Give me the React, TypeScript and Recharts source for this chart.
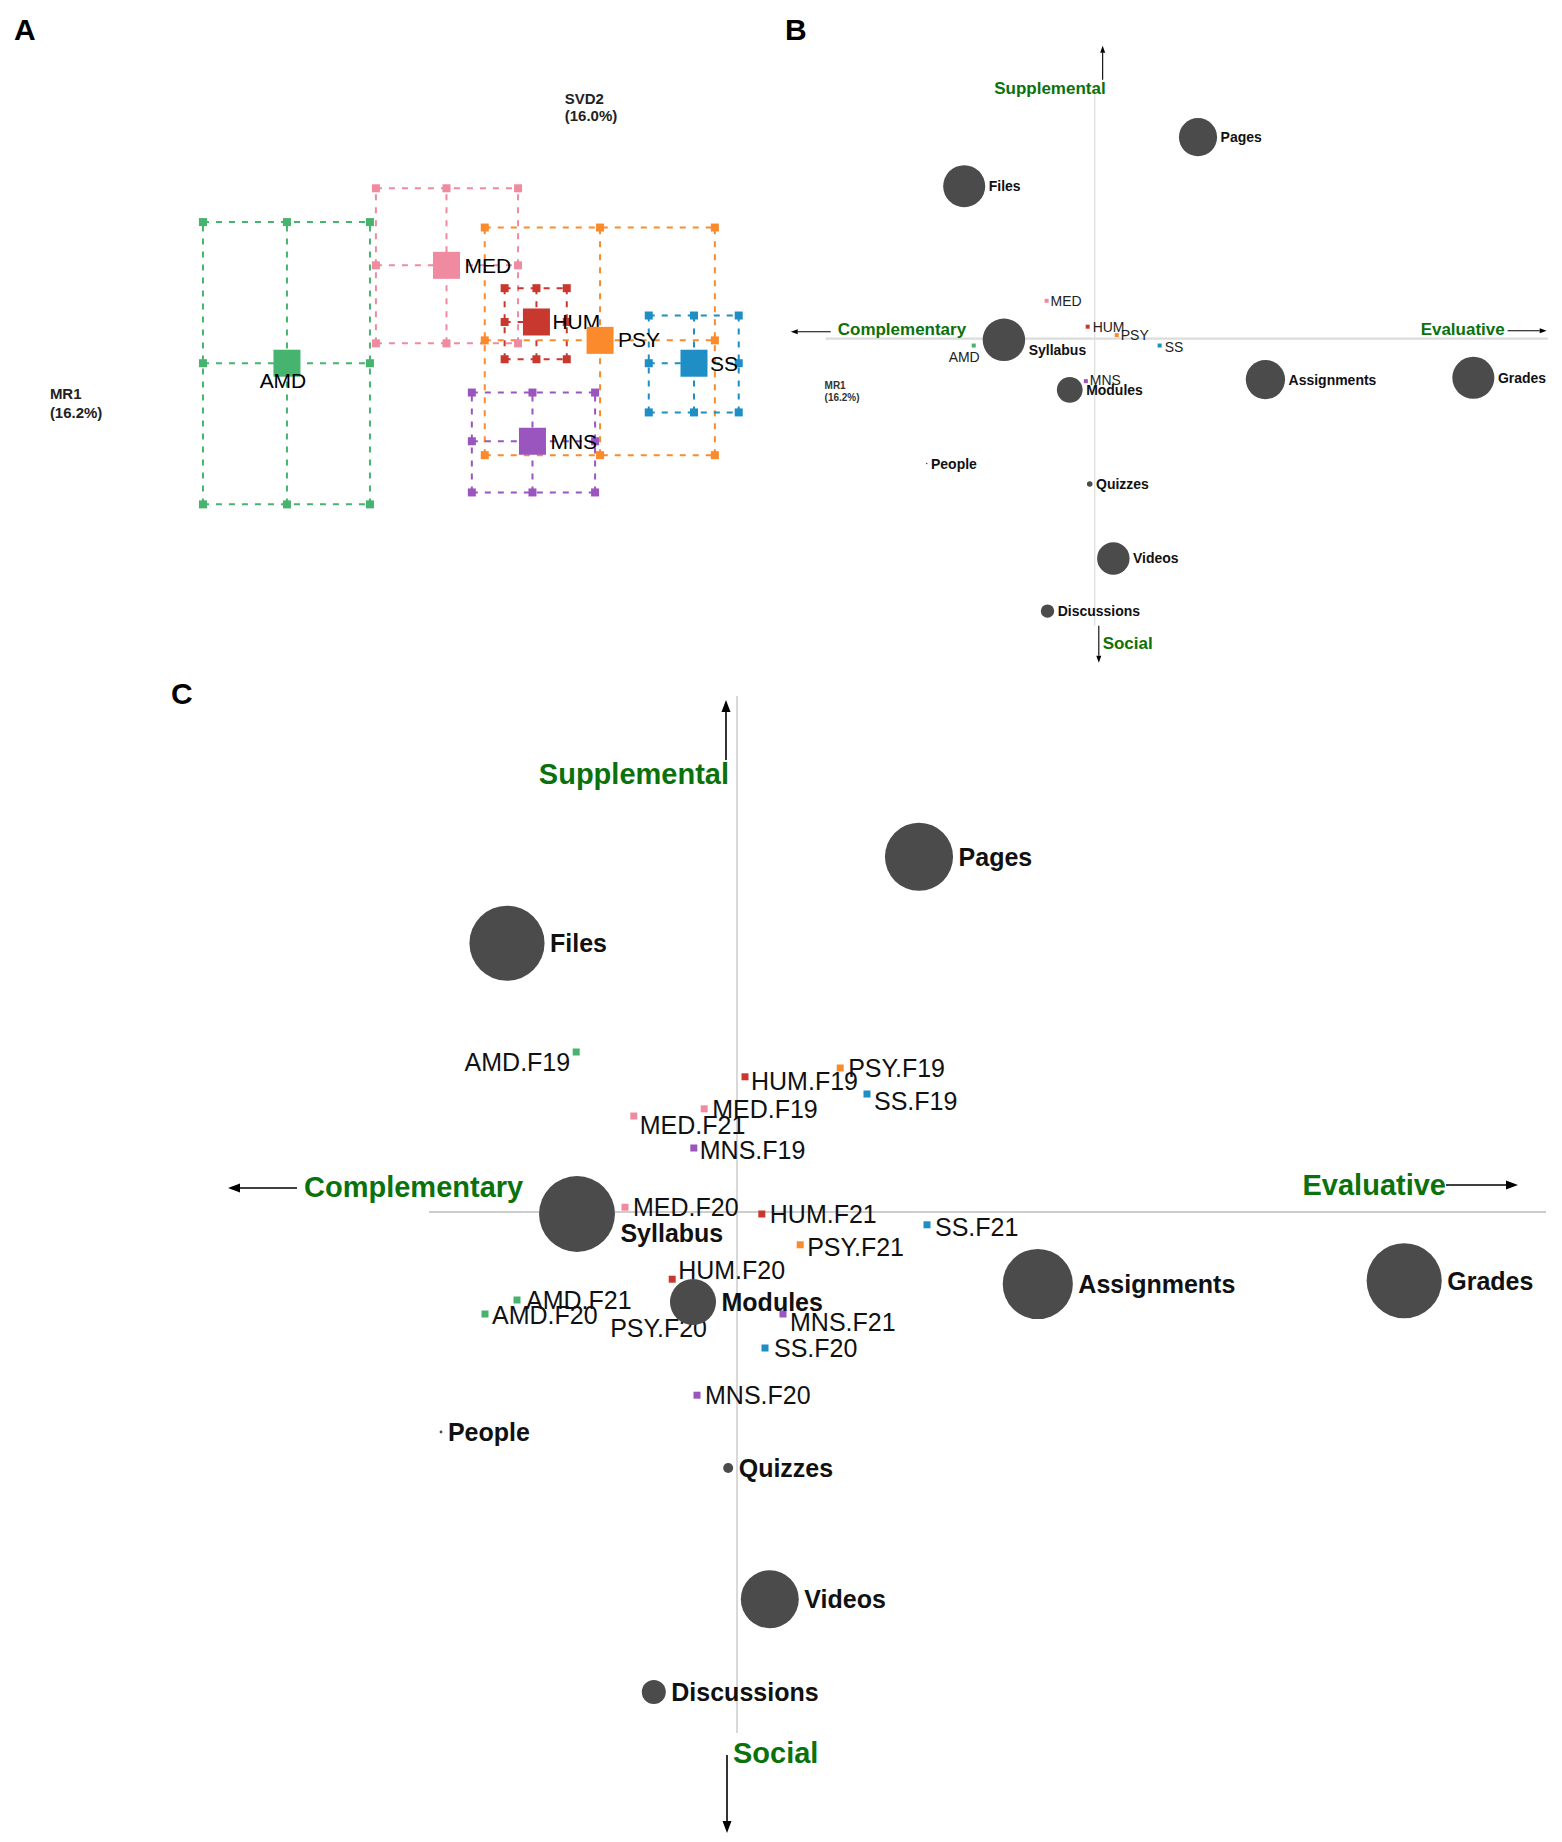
import React from 'react';
import { ScatterChart, Scatter, XAxis, YAxis, ZAxis, ReferenceLine, ReferenceDot } from 'recharts';

const FONT = '"Liberation Sans", Arial, Helvetica, sans-serif';

// ---------------- data ----------------
// departments
const groups = ['AMD', 'MED', 'HUM', 'PSY', 'SS', 'MNS'];
// department mean factor scores (panel A centres, panel B points)
const groupMeanX = [-0.533, -0.212, -0.031, 0.097, 0.286, -0.039];
const groupMeanY = [-0.030, 0.167, 0.053, 0.016, -0.030, -0.187];
// bootstrap confidence bounds (panel A)
const groupLowX = [-0.702, -0.354, -0.095, -0.135, 0.195, -0.161];
const groupHighX = [-0.366, -0.068, 0.030, 0.328, 0.376, 0.087];
const groupLowY = [-0.314, 0.010, -0.022, -0.215, -0.129, -0.290];
const groupHighY = [0.254, 0.322, 0.121, 0.243, 0.066, -0.089];

// department x term scores (panel C)
const termGroup = ['AMD', 'AMD', 'AMD', 'MED', 'MED', 'MED', 'HUM', 'HUM', 'HUM', 'PSY', 'PSY', 'PSY', 'SS', 'SS', 'SS', 'MNS', 'MNS', 'MNS'];
const termName = ['F19', 'F20', 'F21', 'F19', 'F20', 'F21', 'F19', 'F20', 'F21', 'F19', 'F20', 'F21', 'F19', 'F20', 'F21', 'F19', 'F20', 'F21'];
const termX = [-0.402, -0.630, -0.550, -0.082, -0.280, -0.258, 0.020, -0.162, 0.062, 0.258, -0.125, 0.158, 0.325, 0.070, 0.475, -0.108, -0.100, 0.115];
const termY = [0.400, -0.255, -0.220, 0.258, 0.012, 0.240, 0.338, -0.168, -0.005, 0.360, -0.230, -0.082, 0.295, -0.340, -0.032, 0.160, -0.458, -0.255];

// LMS tool variables (panels B and C)
const variables = ['Files', 'Pages', 'Syllabus', 'Modules', 'Assignments', 'Grades', 'People', 'Quizzes', 'Videos', 'Discussions'];
const variableX = [-0.575, 0.455, -0.400, -0.110, 0.752, 1.668, -0.740, -0.022, 0.082, -0.208];
const variableY = [0.672, 0.888, -0.005, -0.225, -0.180, -0.172, -0.550, -0.640, -0.968, -1.200];
const variableContribution = [14.1, 11.6, 14.4, 5.3, 12.3, 14.1, 0.02, 0.25, 8.4, 1.44];

// axis pole names
const poleNames = ['Supplemental', 'Complementary', 'Evaluative', 'Social'];
const dimLabelsA = [['SVD2', '(16.0%)'], ['MR1', '(16.2%)']];
const dimLabelB = ['MR1', '(16.2%)'];

// ---------------- styles / layout ----------------
const groupColor: Record<string, string> = {
  AMD: '#46b46e',
  MED: '#ef8aa0',
  HUM: '#c9382f',
  PSY: '#fb8a2c',
  SS: '#1e8ec5',
  MNS: '#9a55be',
};
const POLE_GREEN = '#0b720b';
const CIRCLE_FILL = '#4b4b4b';

type Geom = { ox: number; oy: number; k: number; xDomain: [number, number]; yDomain: [number, number] };
const PANEL_A: Geom = { ox: 552, oy: 348, k: 497, xDomain: [-1.05, 0.45], yDomain: [-0.34, 0.56] };
const PANEL_B: Geom = { ox: 1095, oy: 339, k: 227, xDomain: [-1.36, 2.05], yDomain: [-1.47, 1.36] };
const PANEL_C: Geom = { ox: 737, oy: 1212, k: 400, xDomain: [-1.8, 2.05], yDomain: [-1.57, 1.3] };

const frame = (p: Geom) => ({
  left: p.ox + p.xDomain[0] * p.k,
  top: p.oy - p.yDomain[1] * p.k,
  width: (p.xDomain[1] - p.xDomain[0]) * p.k,
  height: (p.yDomain[1] - p.yDomain[0]) * p.k,
});

type Place = { dx: number; dy: number; anchor: 'start' | 'middle' | 'end' };
const labelA: Record<string, Place> = {
  AMD: { dx: -4, dy: 17, anchor: 'middle' },
  MED: { dx: 18, dy: 0, anchor: 'start' },
  HUM: { dx: 16, dy: 0, anchor: 'start' },
  PSY: { dx: 18, dy: -1, anchor: 'start' },
  SS: { dx: 16, dy: 0, anchor: 'start' },
  MNS: { dx: 18, dy: 0, anchor: 'start' },
};
const labelB: Record<string, Place> = {
  AMD: { dx: 6, dy: 11, anchor: 'end' },
  MED: { dx: 4, dy: 0, anchor: 'start' },
  HUM: { dx: 5, dy: 0, anchor: 'start' },
  PSY: { dx: 4, dy: 0, anchor: 'start' },
  SS: { dx: 5, dy: 1, anchor: 'start' },
  MNS: { dx: 4, dy: -1, anchor: 'start' },
};
const labelC: Record<string, Place> = {
  'AMD.F19': { dx: -6, dy: 10, anchor: 'end' },
  'AMD.F20': { dx: 7, dy: 1, anchor: 'start' },
  'AMD.F21': { dx: 9, dy: 0, anchor: 'start' },
  'MED.F19': { dx: 8, dy: 0, anchor: 'start' },
  'MED.F20': { dx: 8, dy: 0, anchor: 'start' },
  'MED.F21': { dx: 6, dy: 9, anchor: 'start' },
  'HUM.F19': { dx: 6, dy: 4, anchor: 'start' },
  'HUM.F20': { dx: 6, dy: -9, anchor: 'start' },
  'HUM.F21': { dx: 8, dy: 0, anchor: 'start' },
  'PSY.F19': { dx: 8, dy: 0, anchor: 'start' },
  'PSY.F20': { dx: 20, dy: 24, anchor: 'end' },
  'PSY.F21': { dx: 7, dy: 2, anchor: 'start' },
  'SS.F19': { dx: 7, dy: 7, anchor: 'start' },
  'SS.F20': { dx: 9, dy: 0, anchor: 'start' },
  'SS.F21': { dx: 8, dy: 2, anchor: 'start' },
  'MNS.F19': { dx: 6, dy: 2, anchor: 'start' },
  'MNS.F20': { dx: 8, dy: 0, anchor: 'start' },
  'MNS.F21': { dx: 7, dy: 8, anchor: 'start' },
};
// label dropped below the circle (fraction of radius)
const variableLabelDrop: Record<string, number> = { Syllabus: 0.5 };

// annotation layout (data units of each panel)
type Seg = [[number, number], [number, number]];
type AxisLayout = {
  hLine: Seg; vLine: Seg; arrows: Seg[];
  poles: { x: number; y: number; anchor: 'start' | 'end' }[];
  gray: string; hWidth: number; vWidth: number;
  head: number; headW: number; arrowW: number; poleSize: number;
};
const AXES_B: AxisLayout = {
  hLine: [[-1.185, 0], [1.996, 0]],
  vLine: [[0, 1.11], [0, -1.264]],
  arrows: [
    [[0.035, 1.141], [0.035, 1.291]],
    [[-1.163, 0.031], [-1.339, 0.031]],
    [[1.819, 0.035], [1.991, 0.035]],
    [[0.018, -1.264], [0.018, -1.427]],
  ],
  poles: [
    { x: 0.048, y: 1.101, anchor: 'end' },
    { x: -1.132, y: 0.04, anchor: 'start' },
    { x: 1.806, y: 0.04, anchor: 'end' },
    { x: 0.035, y: -1.344, anchor: 'start' },
  ],
  gray: '#dcdcdc', hWidth: 2.2, vWidth: 1.2,
  head: 7, headW: 5, arrowW: 1.1, poleSize: 17,
};
const AXES_C: AxisLayout = {
  hLine: [[-0.77, 0], [2.0225, 0]],
  vLine: [[0, 1.29], [0, -1.3025]],
  arrows: [
    [[-0.0275, 1.13], [-0.0275, 1.28]],
    [[-1.1, 0.06], [-1.2725, 0.06]],
    [[1.7725, 0.0675], [1.9525, 0.0675]],
    [[-0.025, -1.3575], [-0.025, -1.5525]],
  ],
  poles: [
    { x: -0.02, y: 1.095, anchor: 'end' },
    { x: -1.0825, y: 0.0625, anchor: 'start' },
    { x: 1.7725, y: 0.0675, anchor: 'end' },
    { x: -0.01, y: -1.3525, anchor: 'start' },
  ],
  gray: '#cdcdcd', hWidth: 2.2, vWidth: 1.5,
  head: 12, headW: 9, arrowW: 1.6, poleSize: 29,
};

// ---------------- derived tables ----------------
const groupMeans = groups.map((g, i) => ({ name: g, x: groupMeanX[i], y: groupMeanY[i] }));
const terms = termGroup.map((g, i) => ({ name: `${g}.${termName[i]}`, group: g, x: termX[i], y: termY[i] }));
const variableData = variables.map((v, i) => ({ name: v, x: variableX[i], y: variableY[i], z: variableContribution[i] }));

const gridPoints = (i: number) => {
  const xs = [groupLowX[i], groupMeanX[i], groupHighX[i]];
  const ys = [groupLowY[i], groupMeanY[i], groupHighY[i]];
  const out: { x: number; y: number }[] = [];
  xs.forEach((x, ix) => ys.forEach((y, iy) => {
    if (!(ix === 1 && iy === 1)) out.push({ x, y });
  }));
  return out;
};

// ---------------- shapes ----------------
const arrowShape = (head: number, headW: number, w: number) => (props: any) => {
  const { x1, y1, x2, y2 } = props;
  const dx = x2 - x1;
  const dy = y2 - y1;
  const len = Math.hypot(dx, dy) || 1;
  const ux = dx / len;
  const uy = dy / len;
  const bx = x2 - ux * head;
  const by = y2 - uy * head;
  const px = (-uy * headW) / 2;
  const py = (ux * headW) / 2;
  return (
    <g>
      <line x1={x1} y1={y1} x2={bx} y2={by} stroke="#000" strokeWidth={w} />
      <polygon points={`${x2},${y2} ${bx + px},${by + py} ${bx - px},${by - py}`} fill="#000" />
    </g>
  );
};

const textShape = (text: string, size: number, anchor: string, color: string, weight: string) => (p: any) => (
  <text x={p.cx} y={p.cy} fontFamily={FONT} fontSize={size} fontWeight={weight} fill={color}
    textAnchor={anchor} dominantBaseline="central">{text}</text>
);

const variableShape = (fontSize: number, gap: number) => (props: any) => {
  const { cx, cy, payload } = props;
  const r = Number.isFinite(props.width) ? props.width / 2 : Math.sqrt(Math.max(props.size || 0, 0) / Math.PI);
  const drop = (variableLabelDrop[payload.name] ?? 0) * r;
  return (
    <g>
      <circle cx={cx} cy={cy} r={r} fill={CIRCLE_FILL} />
      <text x={cx + r + gap} y={cy + drop} fontFamily={FONT} fontSize={fontSize} fontWeight="bold"
        fill="#111" dominantBaseline="central">{payload.name}</text>
    </g>
  );
};

const pointShape = (size: number, fontSize: number, places: Record<string, Place>, colorOf: (p: any) => string, textColor: string) => (props: any) => {
  const { cx, cy, payload } = props;
  const pl = places[payload.name] ?? { dx: 6, dy: 0, anchor: 'start' };
  return (
    <g>
      <rect x={cx - size / 2} y={cy - size / 2} width={size} height={size} fill={colorOf(payload)} />
      <text x={cx + pl.dx} y={cy + pl.dy} fontFamily={FONT} fontSize={fontSize} fill={textColor}
        textAnchor={pl.anchor} dominantBaseline="central">{payload.name}</text>
    </g>
  );
};

const smallSquare = (color: string, size: number) => (props: any) => (
  <rect x={props.cx - size / 2} y={props.cy - size / 2} width={size} height={size} fill={color} />
);

const axisElements = (ax: AxisLayout, prefix: string) => [
  <ReferenceLine key={`${prefix}h`} segment={[{ x: ax.hLine[0][0], y: ax.hLine[0][1] }, { x: ax.hLine[1][0], y: ax.hLine[1][1] }]}
    stroke={ax.gray} strokeWidth={ax.hWidth} ifOverflow="visible" />,
  <ReferenceLine key={`${prefix}v`} segment={[{ x: ax.vLine[0][0], y: ax.vLine[0][1] }, { x: ax.vLine[1][0], y: ax.vLine[1][1] }]}
    stroke={ax.gray} strokeWidth={ax.vWidth} ifOverflow="visible" />,
  ...ax.arrows.map((s, i) => (
    <ReferenceLine key={`${prefix}a${i}`} segment={[{ x: s[0][0], y: s[0][1] }, { x: s[1][0], y: s[1][1] }]}
      ifOverflow="visible" shape={arrowShape(ax.head, ax.headW, ax.arrowW)} />
  )),
  ...ax.poles.map((p, i) => (
    <ReferenceDot key={`${prefix}p${i}`} x={p.x} y={p.y} r={0} ifOverflow="visible"
      shape={textShape(poleNames[i], ax.poleSize, p.anchor, POLE_GREEN, 'bold')} />
  )),
];

const Letter = ({ ch, left, cy }: { ch: string; left: number; cy: number }) => (
  <div style={{ position: 'absolute', left, top: cy - 14.6, fontFamily: FONT, fontWeight: 'bold', fontSize: 30, lineHeight: '30px', color: '#000' }}>{ch}</div>
);

const margin0 = { top: 0, right: 0, bottom: 0, left: 0 };

function PanelA() {
  const f = frame(PANEL_A);
  return (
    <div style={{ position: 'absolute', left: f.left, top: f.top }}>
      <ScatterChart width={f.width} height={f.height} margin={margin0}>
        <XAxis type="number" dataKey="x" domain={PANEL_A.xDomain} hide allowDataOverflow />
        <YAxis type="number" dataKey="y" domain={PANEL_A.yDomain} hide allowDataOverflow />
        {groups.flatMap((g, i) => {
          const xs = [groupLowX[i], groupMeanX[i], groupHighX[i]];
          const ys = [groupLowY[i], groupMeanY[i], groupHighY[i]];
          const c = groupColor[g];
          return [
            ...xs.map((x, j) => (
              <ReferenceLine key={`${g}v${j}`} segment={[{ x, y: groupLowY[i] }, { x, y: groupHighY[i] }]}
                stroke={c} strokeWidth={2} strokeDasharray="6 7" ifOverflow="visible" />
            )),
            ...ys.map((y, j) => (
              <ReferenceLine key={`${g}h${j}`} segment={[{ x: groupLowX[i], y }, { x: groupHighX[i], y }]}
                stroke={c} strokeWidth={2} strokeDasharray="6 7" ifOverflow="visible" />
            )),
          ];
        })}
        {groups.map((g, i) => (
          <Scatter key={`grid${g}`} data={gridPoints(i)} isAnimationActive={false} shape={smallSquare(groupColor[g], 8)} />
        ))}
        <Scatter data={groupMeans} isAnimationActive={false}
          shape={pointShape(27, 21, labelA, (p) => groupColor[p.name], '#000')} />
        <ReferenceDot x={0.026} y={0.503} r={0} ifOverflow="visible" shape={textShape(dimLabelsA[0][0], 15, 'start', '#222', 'bold')} />
        <ReferenceDot x={0.026} y={0.469} r={0} ifOverflow="visible" shape={textShape(dimLabelsA[0][1], 15, 'start', '#222', 'bold')} />
        <ReferenceDot x={-1.01} y={-0.091} r={0} ifOverflow="visible" shape={textShape(dimLabelsA[1][0], 15, 'start', '#222', 'bold')} />
        <ReferenceDot x={-1.01} y={-0.129} r={0} ifOverflow="visible" shape={textShape(dimLabelsA[1][1], 15, 'start', '#222', 'bold')} />
      </ScatterChart>
    </div>
  );
}

function PanelB() {
  const f = frame(PANEL_B);
  const s = 0.56;
  return (
    <div style={{ position: 'absolute', left: f.left, top: f.top }}>
      <ScatterChart width={f.width} height={f.height} margin={margin0}>
        <XAxis type="number" dataKey="x" domain={PANEL_B.xDomain} hide allowDataOverflow />
        <YAxis type="number" dataKey="y" domain={PANEL_B.yDomain} hide allowDataOverflow />
        <ZAxis zAxisId="v" type="number" dataKey="z" domain={[0, 15]} range={[0, Math.PI * 1500 * s * s]} />
        {axisElements(AXES_B, 'b')}
        <ReferenceDot x={-1.19} y={-0.207} r={0} ifOverflow="visible" shape={textShape(dimLabelB[0], 10, 'start', '#333', 'bold')} />
        <ReferenceDot x={-1.19} y={-0.26} r={0} ifOverflow="visible" shape={textShape(dimLabelB[1], 10, 'start', '#333', 'bold')} />
        <Scatter data={groupMeans} isAnimationActive={false}
          shape={pointShape(4, 14, labelB, (p) => groupColor[p.name], '#222')} />
        <Scatter data={variableData} zAxisId="v" isAnimationActive={false} shape={variableShape(14, 3.5)} />
      </ScatterChart>
    </div>
  );
}

function PanelC() {
  const f = frame(PANEL_C);
  return (
    <div style={{ position: 'absolute', left: f.left, top: f.top }}>
      <ScatterChart width={f.width} height={f.height} margin={margin0}>
        <XAxis type="number" dataKey="x" domain={PANEL_C.xDomain} hide allowDataOverflow />
        <YAxis type="number" dataKey="y" domain={PANEL_C.yDomain} hide allowDataOverflow />
        <ZAxis zAxisId="v" type="number" dataKey="z" domain={[0, 15]} range={[0, Math.PI * 1500]} />
        {axisElements(AXES_C, 'c')}
        <Scatter data={terms} isAnimationActive={false}
          shape={pointShape(7, 25, labelC, (p) => groupColor[p.group], '#111')} />
        <Scatter data={variableData} zAxisId="v" isAnimationActive={false} shape={variableShape(25, 5.5)} />
      </ScatterChart>
    </div>
  );
}

export default function App() {
  return (
    <div style={{ position: 'absolute', left: 0, top: 0, width: 1562, height: 1842, overflow: 'hidden', background: '#fff' }}>
      <style>{'.recharts-surface{overflow:visible}'}</style>
      <Letter ch="A" left={14} cy={30} />
      <Letter ch="B" left={785} cy={30} />
      <Letter ch="C" left={171} cy={694} />
      <PanelA />
      <PanelB />
      <PanelC />
    </div>
  );
}
